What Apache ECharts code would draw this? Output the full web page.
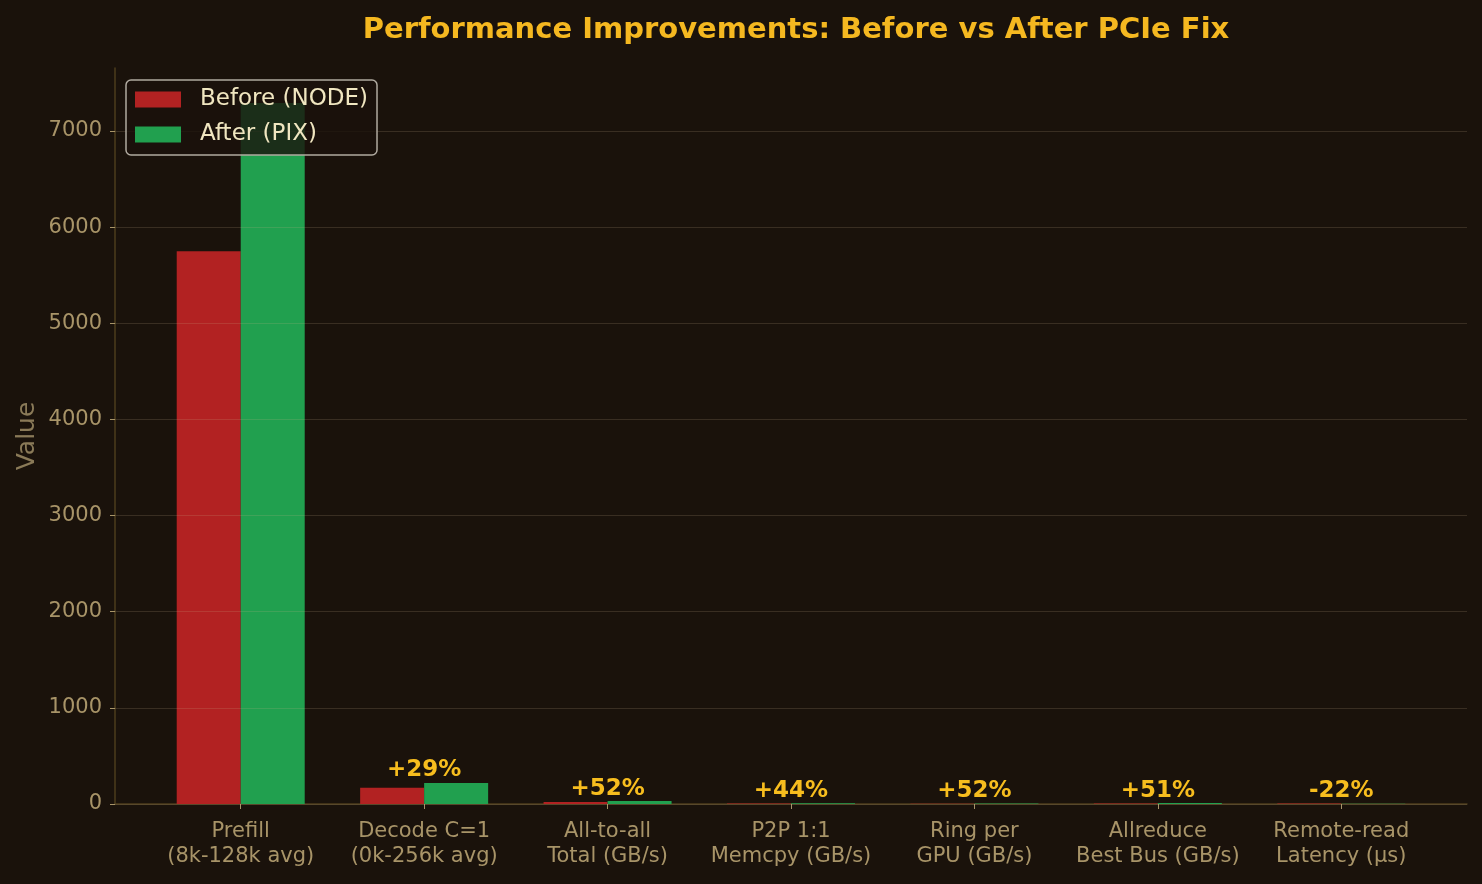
<!DOCTYPE html>
<html>
<head>
<meta charset="utf-8">
<script src="https://cdn.jsdelivr.net/npm/echarts@6/dist/echarts.min.js"></script>
<style>
  html, body { margin: 0; padding: 0; background: #1a120b; }
  #chart { width: 1482px; height: 884px; }
</style>
</head>
<body>
<div id="chart"></div>
<script>
// categories and values
const categories = [
    'Prefill\n(8k-128k avg)',
    'Decode C=1\n(0k-256k avg)',
    'All-to-all\nTotal (GB/s)',
    'P2P 1:1\nMemcpy (GB/s)',
    'Ring per\nGPU (GB/s)',
    'Allreduce\nBest Bus (GB/s)',
    'Remote-read\nLatency (µs)'
];
const beforeValues = [5750, 170, 20, 4.8, 3.3, 6.1, 4.5];
const afterValues = [7290, 219, 30, 6.9, 5.0, 9.2, 3.5];
const pctLabels = ['', '+29%', '+52%', '+44%', '+52%', '+51%', '-22%'];

const yMax = 7655;      // top of the plot area
const yTickMax = 7000;  // last labelled tick

const tan = '#a89468';
const spine = '#4d3d1c';

const dom = document.getElementById('chart');
const myEchart = echarts.init(dom);

// label sits above the taller bar of each pair
const labelPoints = beforeValues.map((v, i) => Math.max(v, afterValues[i]));

// plot area: 68..804 px; the tick grid stops at 7000
const plotTop = 68, plotBottom = 80, plotH = 884 - plotTop - plotBottom;
const tickTop = plotTop + (yMax - yTickMax) / yMax * plotH;

const options = {
    backgroundColor: '#1a120b',
    animation: false,
    textStyle: { fontFamily: 'DejaVu Sans' },
    title: {
        text: 'Performance Improvements: Before vs After PCIe Fix',
        left: 791,
        textAlign: 'center',
        top: 11,
        textStyle: { color: '#f5b820', fontSize: 29, fontWeight: 'bold', fontFamily: 'DejaVu Sans' }
    },
    legend: {
        data: ['Before (NODE)', 'After (PIX)'],
        orient: 'vertical',
        left: 126,
        top: 80,
        padding: [8, 9, 9, 9],
        itemWidth: 46,
        itemHeight: 16,
        itemGap: 12,
        icon: 'rect',
        backgroundColor: 'rgba(26,18,11,0.8)',
        borderColor: '#b0aaa0',
        borderWidth: 1.5,
        borderRadius: 5,
        z: 10,
        textStyle: { color: '#f0e6c0', fontSize: 23, padding: [0, 0, 0, 14] }
    },
    grid: [
        { left: 115, right: 15, top: plotTop, bottom: plotBottom },
        { left: 149, right: 49, top: plotTop, bottom: plotBottom },
        { left: 115, right: 15, top: tickTop, bottom: plotBottom }
    ],
    xAxis: [
        {
            type: 'value', gridIndex: 0, min: 0, max: 1,
            axisLine: { show: true, lineStyle: { color: spine, width: 1.5 } },
            axisTick: { show: false }, axisLabel: { show: false }, splitLine: { show: false }
        },
        {
            type: 'category', gridIndex: 1, data: categories,
            axisLine: { show: false },
            axisTick: { show: true, alignWithLabel: true, length: 5, lineStyle: { color: tan } },
            axisLabel: { color: tan, fontSize: 21, lineHeight: 25, margin: 15, interval: 0, hideOverlap: false }
        },
        {
            type: 'value', gridIndex: 2, min: 0, max: 1, show: false
        }
    ],
    yAxis: [
        {
            type: 'value', gridIndex: 0, min: 0, max: yMax,
            name: 'Value', nameLocation: 'middle', nameGap: 75,
            nameTextStyle: { color: '#8a7a58', fontSize: 25 },
            axisLine: { show: true, lineStyle: { color: spine, width: 1.5 } },
            axisTick: { show: false }, axisLabel: { show: false }, splitLine: { show: false }
        },
        {
            type: 'value', gridIndex: 1, min: 0, max: yMax, show: false
        },
        {
            type: 'value', gridIndex: 2, min: 0, max: yTickMax, interval: 1000, z: 3,
            axisLine: { show: false },
            axisTick: { show: true, length: 5, lineStyle: { color: tan } },
            axisLabel: { color: tan, fontSize: 21, margin: 13, padding: [4, 0, 0, 0], formatter: v => String(v) },
            splitLine: { show: true, lineStyle: { color: 'rgba(200,180,140,0.18)', width: 1.2 } }
        }
    ],
    series: [
        {
            name: 'Before (NODE)', type: 'bar', xAxisIndex: 1, yAxisIndex: 1,
            data: beforeValues, barWidth: 64, barGap: '0%',
            itemStyle: { color: '#b22222' }
        },
        {
            name: 'After (PIX)', type: 'bar', xAxisIndex: 1, yAxisIndex: 1,
            data: afterValues, barWidth: 64,
            itemStyle: { color: '#21a04f' }
        },
        {
            name: 'pct', type: 'scatter', xAxisIndex: 1, yAxisIndex: 1,
            data: labelPoints, symbolSize: 0, silent: true,
            itemStyle: { opacity: 1 },
            label: {
                show: true, position: 'top', distance: 1,
                color: '#f7bd1e', fontSize: 23, fontWeight: 'bold',
                formatter: p => pctLabels[p.dataIndex]
            }
        }
    ]
};
myEchart.setOption(options);
</script>
</body>
</html>
